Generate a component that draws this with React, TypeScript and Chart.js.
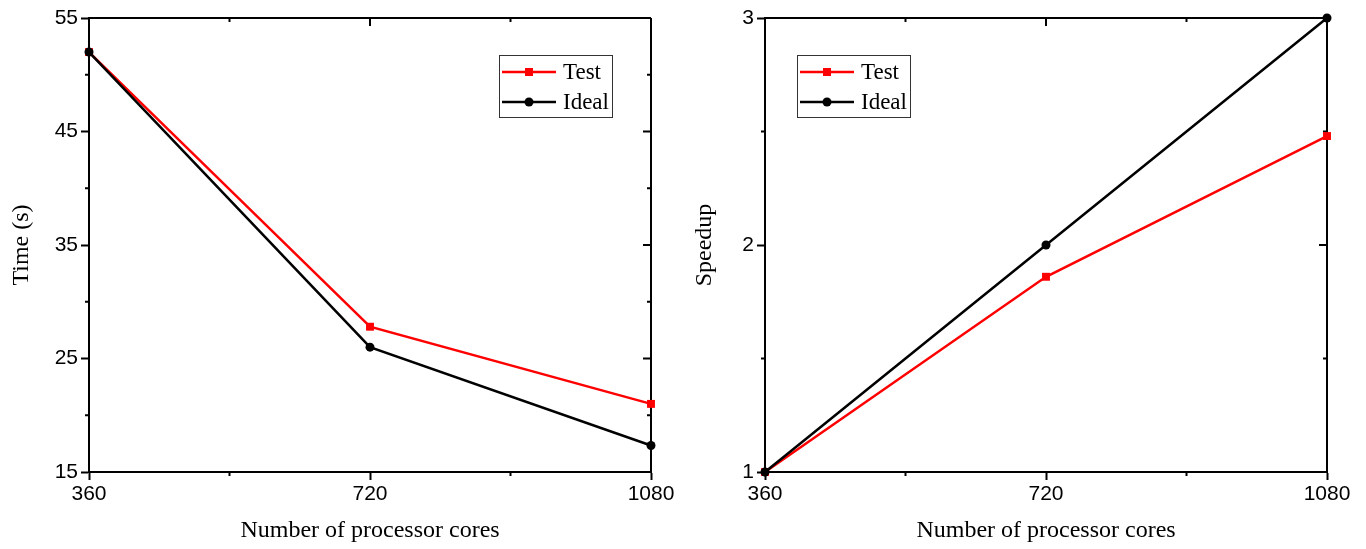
import React, { useEffect, useRef } from 'react';
import { Chart, registerables } from 'chart.js';

Chart.register(...registerables);

// ---- data ----
const cores = [360, 720, 1080];
const timeTest = [52, 27.8, 21];
const timeIdeal = [52, 26, 17.33];
const speedupTest = [1, 1.86, 2.48];
const speedupIdeal = [1, 2, 3];

const seriesNames = ['Test', 'Ideal'];
const seriesColors = ['#ff0000', '#000000'];
const seriesMarkers = ['rect', 'circle'];

const xMajorTicks = [360, 720, 1080];
const xMinorTicks = [540, 900];
const timeMajorTicks = [15, 25, 35, 45, 55];
const timeMinorTicks = [20, 30, 40, 50];
const speedupMajorTicks = [1, 2, 3];
const speedupMinorTicks = [1.5, 2.5];

const xTitle = 'Number of processor cores';
const timeTitle = 'Time (s)';
const speedupTitle = 'Speedup';

const SANS = '"Liberation Sans", Arial, sans-serif';
const SERIF = '"Liberation Serif", "Times New Roman", serif';

const framePlugin = {
  id: 'frameTicks',
  beforeDatasetsDraw(chart: any, _args: any, opts: any) {
    const { ctx, chartArea } = chart;
    const { left, right, top, bottom } = chartArea;
    const xs = chart.scales.x;
    const ys = chart.scales.y;
    ctx.save();
    ctx.strokeStyle = '#000';
    ctx.lineWidth = 2;
    ctx.beginPath();
    ctx.moveTo(left, top);
    ctx.lineTo(right, top);
    ctx.moveTo(right, top);
    ctx.lineTo(right, bottom);
    const minorOut = 4;
    const majorIn = 8;
    const minorIn = 4;
    (opts.xMinor || []).forEach((v: number) => {
      const px = xs.getPixelForValue(v);
      ctx.moveTo(px, bottom);
      ctx.lineTo(px, bottom + minorOut);
    });
    (opts.yMinor || []).forEach((v: number) => {
      const py = ys.getPixelForValue(v);
      ctx.moveTo(left, py);
      ctx.lineTo(left - minorOut, py);
    });
    (opts.xMajor || []).forEach((v: number) => {
      const px = xs.getPixelForValue(v);
      ctx.moveTo(px, top);
      ctx.lineTo(px, top + majorIn);
    });
    (opts.xMinor || []).forEach((v: number) => {
      const px = xs.getPixelForValue(v);
      ctx.moveTo(px, top);
      ctx.lineTo(px, top + minorIn);
    });
    (opts.yMajor || []).forEach((v: number) => {
      const py = ys.getPixelForValue(v);
      ctx.moveTo(right, py);
      ctx.lineTo(right - majorIn, py);
    });
    (opts.yMinor || []).forEach((v: number) => {
      const py = ys.getPixelForValue(v);
      ctx.moveTo(right, py);
      ctx.lineTo(right - minorIn, py);
    });
    ctx.stroke();
    ctx.restore();
  },
  afterDraw(chart: any, _args: any, opts: any) {
    const lg = opts.legend;
    if (!lg) return;
    const { ctx } = chart;
    ctx.save();
    ctx.strokeStyle = '#333';
    ctx.lineWidth = 1;
    ctx.strokeRect(lg.x + 0.5, lg.y + 0.5, lg.w, lg.h);
    const datasets = chart.data.datasets;
    datasets.forEach((ds: any, i: number) => {
      const cy = lg.y + 17 + i * 30;
      ctx.strokeStyle = ds.borderColor;
      ctx.lineWidth = 2.5;
      ctx.beginPath();
      ctx.moveTo(lg.x + 3, cy);
      ctx.lineTo(lg.x + 57, cy);
      ctx.stroke();
      ctx.fillStyle = ds.borderColor;
      const mx = lg.x + 30;
      if (ds.pointStyle === 'rect') {
        ctx.fillRect(mx - 4, cy - 4, 8, 8);
      } else {
        ctx.beginPath();
        ctx.arc(mx, cy, 4.5, 0, Math.PI * 2);
        ctx.fill();
      }
      ctx.fillStyle = '#000';
      ctx.font = `23px ${SERIF}`;
      ctx.textBaseline = 'middle';
      ctx.textAlign = 'left';
      ctx.fillText(ds.label, lg.x + 64, cy + 1);
    });
    ctx.restore();
  },
};

type PanelProps = {
  test: number[];
  ideal: number[];
  yMin: number;
  yMax: number;
  yMajor: number[];
  yMinor: number[];
  yTitle: string;
  yAxisWidth: number;
  rightPad: number;
  legend: { x: number; y: number; w: number; h: number };
};

function Panel(p: PanelProps) {
  const ref = useRef<HTMLCanvasElement | null>(null);
  useEffect(() => {
    if (!ref.current) return;
    const series = [p.test, p.ideal];
    const chart = new Chart(ref.current, {
      type: 'line',
      data: {
        datasets: series.map((vals, i) => ({
          label: seriesNames[i],
          data: cores.map((c, j) => ({ x: c, y: vals[j] })),
          borderColor: seriesColors[i],
          backgroundColor: seriesColors[i],
          borderWidth: 2.5,
          pointStyle: seriesMarkers[i] as any,
          pointRadius: i === 0 ? 5.6 : 4.5,
          pointBorderWidth: 0,
          tension: 0,
          clip: false as any,
          order: i === 0 ? 1 : 0,
        })),
      },
      options: {
        animation: false,
        responsive: false,
        layout: { padding: { top: 18, right: p.rightPad, left: 0, bottom: 0 } },
        plugins: {
          legend: { display: false },
          tooltip: { enabled: false },
          frameTicks: {
            xMajor: xMajorTicks,
            xMinor: xMinorTicks,
            yMajor: p.yMajor,
            yMinor: p.yMinor,
            legend: p.legend,
          },
        } as any,
        scales: {
          x: {
            type: 'linear',
            min: cores[0],
            max: cores[cores.length - 1],
            afterBuildTicks: (s: any) => {
              s.ticks = xMajorTicks.map((v) => ({ value: v }));
            },
            afterFit: (s: any) => {
              s.height = 77;
            },
            grid: {
              display: true,
              drawOnChartArea: false,
              drawTicks: true,
              tickLength: 8,
              tickWidth: 2,
              tickColor: '#000',
            },
            border: { display: true, color: '#000', width: 2 },
            ticks: {
              color: '#000',
              font: { family: SANS, size: 21 },
              padding: 2,
              maxRotation: 0,
              autoSkip: false,
              callback: (v: any) => String(v),
            },
            title: {
              display: true,
              text: xTitle,
              color: '#000',
              font: { family: SERIF, size: 24 },
              padding: { top: 0, bottom: 4 },
            },
          },
          y: {
            type: 'linear',
            min: p.yMin,
            max: p.yMax,
            afterBuildTicks: (s: any) => {
              s.ticks = p.yMajor.map((v) => ({ value: v }));
            },
            afterFit: (s: any) => {
              s.width = p.yAxisWidth;
            },
            grid: {
              display: true,
              drawOnChartArea: false,
              drawTicks: true,
              tickLength: 8,
              tickWidth: 2,
              tickColor: '#000',
            },
            border: { display: true, color: '#000', width: 2 },
            ticks: {
              color: '#000',
              font: { family: SANS, size: 21 },
              padding: 3,
              autoSkip: false,
              callback: (v: any) => String(v),
            },
            title: {
              display: true,
              text: p.yTitle,
              color: '#000',
              font: { family: SERIF, size: 24 },
              padding: { top: 7, bottom: 0 },
            },
          },
        },
      },
      plugins: [framePlugin],
    } as any);
    return () => chart.destroy();
  }, []);
  return <canvas ref={ref} width={683} height={549} style={{ display: 'block', width: 683, height: 549 }} />;
}

export default function App() {
  return (
    <div
      style={{
        position: 'fixed',
        left: 0,
        top: 0,
        width: 1366,
        height: 549,
        display: 'flex',
        background: '#fff',
      }}
    >
      <Panel
        test={timeTest}
        ideal={timeIdeal}
        yMin={15}
        yMax={55}
        yMajor={timeMajorTicks}
        yMinor={timeMinorTicks}
        yTitle={timeTitle}
        yAxisWidth={89}
        rightPad={32}
        legend={{ x: 499, y: 55, w: 113, h: 62 }}
      />
      <Panel
        test={speedupTest}
        ideal={speedupIdeal}
        yMin={1}
        yMax={3}
        yMajor={speedupMajorTicks}
        yMinor={speedupMinorTicks}
        yTitle={speedupTitle}
        yAxisWidth={82}
        rightPad={39}
        legend={{ x: 114, y: 55, w: 113, h: 62 }}
      />
    </div>
  );
}
